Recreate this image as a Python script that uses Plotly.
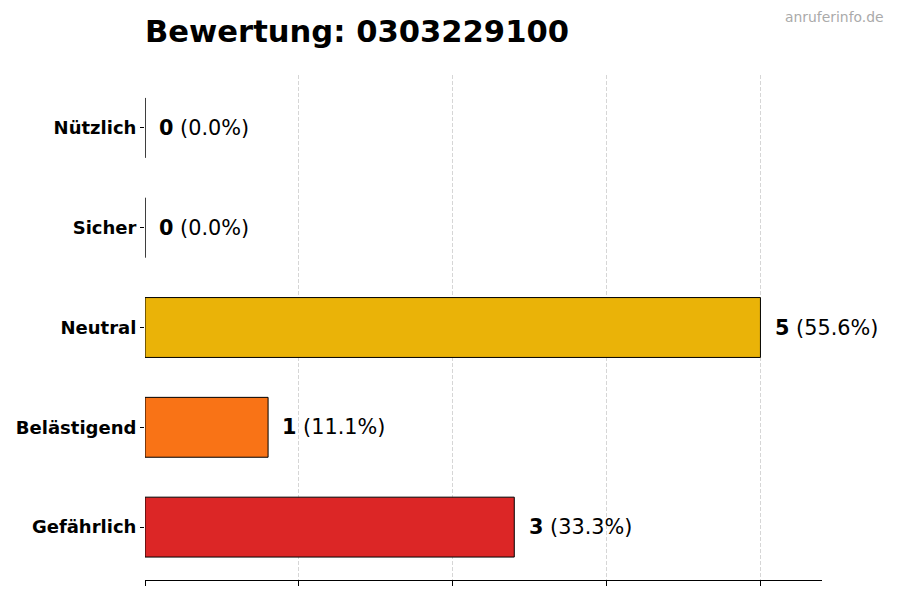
import plotly.graph_objects as go

categories = ["Gefährlich", "Belästigend", "Neutral", "Sicher", "Nützlich"]
counts = [3, 1, 5, 0, 0]
percents = [33.3, 11.1, 55.6, 0.0, 0.0]
colors = ["#DC2626", "#F97316", "#EAB308", "#3B82F6", "#22C55E"]
grid_ticks = [0, 1.25, 2.5, 3.75, 5]

# page offset (browser body margin) compensation
OX, OY = 8, 8
W, H = 900, 600
L, R, T, B = 145 - OX, 822 - OX, 75 - OY, 580 - OY

fig = go.Figure()
fig.add_trace(go.Bar(
    y=categories, x=counts, orientation="h", width=0.6,
    marker=dict(color=colors, line=dict(color="black", width=1)),
    hoverinfo="skip",
))

for c, v, p in zip(categories, counts, percents):
    fig.add_annotation(
        x=v + 0.1, y=c, xref="x", yref="y", xanchor="left", yanchor="middle",
        text=f"<b>{v}</b> ({p:.1f}%)", showarrow=False,
        font=dict(family="DejaVu Sans", size=20.8, color="black"),
    )

fig.add_annotation(
    x=(886 - OX - L) / (R - L), y=(B - (17 - OY)) / (B - T), xref="paper", yref="paper",
    xanchor="right", yanchor="middle", text="anruferinfo.de", showarrow=False,
    font=dict(family="DejaVu Sans", size=13.9, color="#aaaaaa"),
)

fig.update_layout(
    width=W, height=H,
    paper_bgcolor="white", plot_bgcolor="white",
    margin=dict(l=L, r=W - R, t=T, b=H - B, autoexpand=False),
    showlegend=False,
    title=dict(text="<b>Bewertung: 0303229100</b>", x=L / W, xanchor="left",
               xref="container", yref="container",
               y=1 - (31 - OY) / H, yanchor="middle",
               font=dict(family="DejaVu Sans", size=30.6, color="black")),
)
fig.update_xaxes(
    range=[0, 5.5], tickvals=grid_ticks, showticklabels=False,
    ticks="outside", ticklen=5, tickcolor="black", automargin=False,
    showgrid=True, gridcolor="#d6d6d6", griddash="4px,2px", gridwidth=1,
    showline=True, linecolor="black", linewidth=1, zeroline=False,
)
fig.update_yaxes(
    range=[-0.53, 4.53], categoryorder="array", categoryarray=categories,
    ticks="outside", ticklen=4, tickcolor="black", showline=False, showgrid=False,
    tickfont=dict(family="DejaVu Sans", size=18, color="black"), automargin=False,
    tickvals=categories, ticktext=[f"<b>{c}</b>" for c in categories],
)

fig.write_html("out.html")
